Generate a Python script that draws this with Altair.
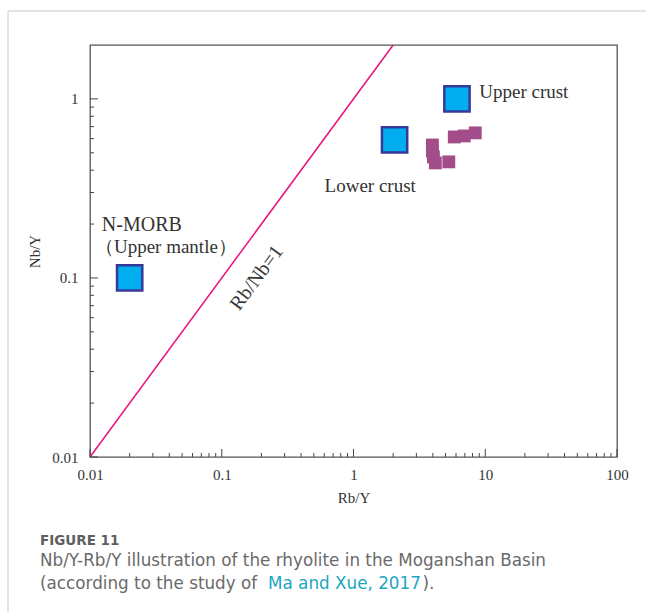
import altair as alt
import pandas as pd

# ---------------- data ----------------
ref_names = ["N-MORB", "Lower crust", "Upper crust"]
ref_rb_y = [0.02, 2.05, 6.1]
ref_nb_y = [0.10, 0.59, 1.00]

sample_rb_y = [3.97, 3.97, 4.04, 4.18, 5.29, 5.82, 6.93, 8.40]
sample_nb_y = [0.553, 0.512, 0.474, 0.439, 0.445, 0.613, 0.621, 0.646]

line_rb_y = [0.01, 2.0]
line_nb_y = [0.01, 2.0]

x_major = [0.01, 0.1, 1, 10, 100]
y_major = [0.01, 0.1, 1]
x_minor = [round(m * 10 ** k, 6) for k in range(-2, 2) for m in range(2, 10)]
y_minor = [round(m * 10 ** k, 6) for k in range(-2, 0) for m in range(2, 10)]

ann_text = ["N-MORB", "（Upper mantle）", "Upper crust", "Lower crust"]
ann_x = [0.0123, 0.0109, 9.0, 0.603]
ann_y = [0.183, 0.138, 1.013, 0.302]
ann_size = [20, 19, 19, 19]

rot_text = "Rb/Nb=1"
rot_x = 0.184
rot_y = 0.1

# ---------------- layout ----------------
W, H = 527, 412
PL, PT = 90, 45
SERIF = "Liberation Serif"
SANS = "DejaVu Sans"

xs = alt.Scale(type="log", domain=[0.01, 100], nice=False)
ys = alt.Scale(type="log", domain=[0.01, 2], nice=False)

X_AX = alt.Axis(
    title="Rb/Y", values=x_major, format="~g", ticks=False, domain=False, grid=False,
    labelFont=SERIF, labelFontSize=15, labelColor="#333", labelPadding=10, labelFlush=False,
    titleFont=SERIF, titleFontSize=15, titleFontWeight="normal", titleColor="#333", titlePadding=8)
Y_AX = alt.Axis(
    title="Nb/Y", values=y_major, format="~g", ticks=False, domain=False, grid=False,
    labelFont=SERIF, labelFontSize=15, labelColor="#333", labelPadding=12, labelFlush=False,
    titleFont=SERIF, titleFontSize=15, titleFontWeight="normal", titleColor="#333", titlePadding=9)


def X(field):
    return alt.X(field, type="quantitative", scale=xs, axis=X_AX)


def Y(field):
    return alt.Y(field, type="quantitative", scale=ys, axis=Y_AX)


line_df = pd.DataFrame({"x": line_rb_y, "y": line_nb_y})
line = alt.Chart(line_df).mark_line(color="#e8127f", strokeWidth=1.5).encode(x=X("x"), y=Y("y"))


def xticks(vals, L):
    return alt.Chart(pd.DataFrame({"x": vals})).mark_rule(color="#444", strokeWidth=1).encode(
        x=X("x"), y=alt.value(H), y2=alt.value(H - L))


def yticks(vals, L):
    return alt.Chart(pd.DataFrame({"y": vals})).mark_rule(color="#444", strokeWidth=1).encode(
        y=Y("y"), x=alt.value(0), x2=alt.value(L))


ref_df = pd.DataFrame({"x": ref_rb_y, "y": ref_nb_y, "name": ref_names})
refs = alt.Chart(ref_df).mark_square(size=640, fill="#00aeef", stroke="#37399a",
                                     strokeWidth=2.5, opacity=1, fillOpacity=1).encode(
    x=X("x"), y=Y("y"))

smp_df = pd.DataFrame({"x": sample_rb_y, "y": sample_nb_y})
samples = alt.Chart(smp_df).mark_square(size=165, color="#a24d8a", opacity=1).encode(
    x=X("x"), y=Y("y"))

ann_layers = []
for t, ax, ay, s in zip(ann_text, ann_x, ann_y, ann_size):
    ann_layers.append(
        alt.Chart(pd.DataFrame({"x": [ax], "y": [ay], "t": [t]})).mark_text(
            font=SERIF, fontSize=s, color="#333", align="left", baseline="alphabetic").encode(
            x=X("x"), y=Y("y"), text="t:N"))

rot = alt.Chart(pd.DataFrame({"x": [rot_x], "y": [rot_y], "t": [rot_text]})).mark_text(
    font=SERIF, fontSize=20, color="#333", align="center", baseline="middle", angle=306.4).encode(
    x=X("x"), y=Y("y"), text="t:N")


# caption & frame
def cap(text, x, y, size, color, weight="normal"):
    return alt.Chart(pd.DataFrame({"t": [text]})).mark_text(
        font=SANS, fontSize=size, color=color, fontWeight=weight, align="left",
        baseline="middle").encode(x=alt.value(x - PL), y=alt.value(y - PT), text="t:N")


caps = [
    cap("FIGURE 11", 40, 541, 13.5, "#5f5f5f", "bold"),
    cap("Nb/Y-Rb/Y illustration of the rhyolite in the Moganshan Basin", 40, 561, 16.8, "#6a6a6a"),
    cap("(according to the study of", 40, 584, 16.8, "#6a6a6a"),
    cap("Ma and Xue, 2017", 268, 584, 16.8, "#1ba6c4"),
    cap(").", 422.5, 584, 16.8, "#6a6a6a"),
]

frame_top = alt.Chart(pd.DataFrame({"a": [0]})).mark_rule(color="#c8c8c8", strokeWidth=1).encode(
    x=alt.value(8 - PL), x2=alt.value(646 - PL), y=alt.value(11 - PT))
frame_left = alt.Chart(pd.DataFrame({"a": [0]})).mark_rule(color="#c8c8c8", strokeWidth=1).encode(
    x=alt.value(8 - PL), y=alt.value(11 - PT), y2=alt.value(612 - PT))

chart = alt.layer(
    line, xticks(x_minor, 4), xticks(x_major, 8), yticks(y_minor, 4), yticks(y_major, 8),
    refs, samples, *ann_layers, rot, *caps, frame_top, frame_left
).properties(
    width=W, height=H,
    autosize=alt.AutoSizeParams(type="none"),
    padding={"left": PL, "top": PT, "right": 646 - PL - W, "bottom": 612 - PT - H},
    background="white",
).configure_view(stroke="#555", strokeWidth=1.3)

chart.save("out.html", embed_options={"renderer": "svg", "actions": False})
